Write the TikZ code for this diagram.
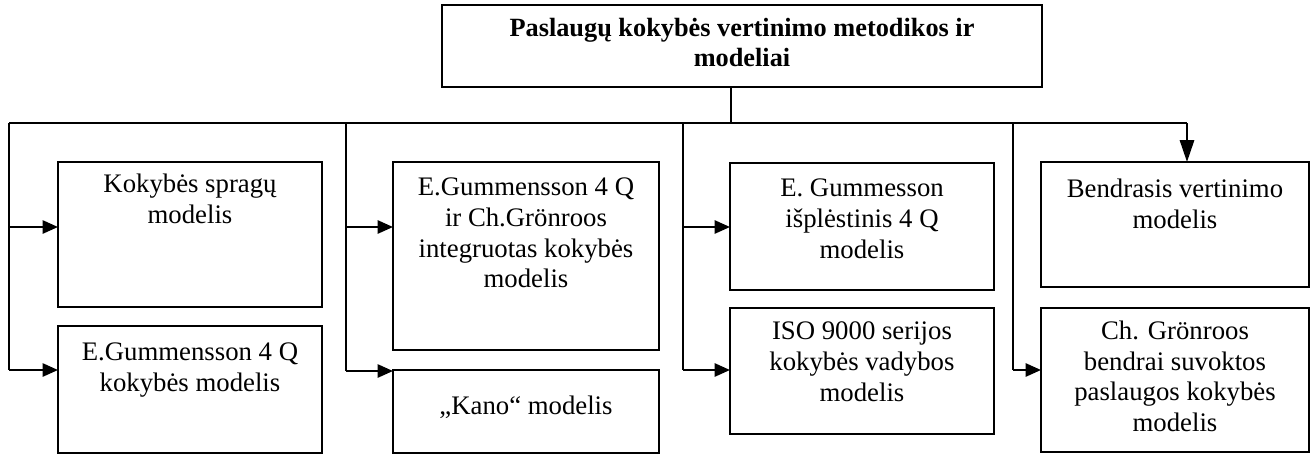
\documentclass[tikz,border=0pt]{standalone}
\usepackage{fontspec}
\setmainfont{Liberation Serif}
\usetikzlibrary{arrows.meta,calc}
\begin{document}
\begin{tikzpicture}[x=0.456pt,y=-0.456pt,
  size/.style 2 args={minimum width={#1*0.456pt}, minimum height={#2*0.456pt}},
  box/.style={draw, line width=0.9pt, inner sep=0pt, outer sep=0pt, anchor=north west},
  txt/.style={anchor=north, align=center, inner sep=0pt,
    font=\fontsize{12.2}{14}\selectfont, execute at begin node=\strut},
  wire/.style={line width=0.6pt},
  arr/.style={line width=1pt, -{Triangle[length=7pt,width=6pt]}},
  darr/.style={line width=1pt, -{Triangle[length=10pt,width=6.5pt]}}]
\useasboundingbox (0,0) rectangle (1314,454);

% boxes
\node[box, size={600}{82}]  (top) at (442,5) {};
\node[box, size={264}{145}] (A) at (58,162) {};
\node[box, size={264}{127}] (B) at (58,326) {};
\node[box, size={266}{188}] (C) at (393,162) {};
\node[box, size={266}{83}]  (D) at (393,370) {};
\node[box, size={264}{127}] (E) at (730,163) {};
\node[box, size={264}{126}] (F) at (730,308) {};
\node[box, size={268}{125}] (G) at (1041,162) {};
\node[box, size={268}{144}] (H) at (1041,308) {};

% texts
\node[txt, font=\fontsize{12}{14}\selectfont\bfseries] (ttop) at ($(top.north)+(0,12.5)$)
  {Paslaugų kokybės vertinimo metodikos ir\\modeliai};
\node[txt] (tA) at ($(A.north)+(0,11.5)$) {Kokybės spragų\\modelis};
\node[txt] (tB) at ($(B.north)+(0,16.5)$) {E.Gummensson 4 Q\\kokybės modelis};
\node[txt] (tC) at ($(C.north)+(0,15.5)$) {E.Gummensson 4 Q\\ir Ch.Grönroos\\integruotas kokybės\\modelis};
\node[txt] (tD) at ($(D.north)+(0,22.5)$) {„Kano“ modelis};
\node[txt] (tE) at ($(E.north)+(0,15.5)$) {E. Gummesson\\išplėstinis 4 Q\\modelis};
\node[txt] (tF) at ($(F.north)+(0,13.5)$) {ISO 9000 serijos\\kokybės vadybos\\modelis};
\node[txt] (tG) at ($(G.north)+(0,16.5)$) {Bendrasis vertinimo\\modelis};
\node[txt] (tH) at ($(H.north)+(0,12.5)$) {Ch. Grönroos\\bendrai suvoktos\\paslaugos kokybės\\modelis};

% bus and trunks
\coordinate (tap) at (731,123);
\coordinate (busL) at (9,123);
\coordinate (busR) at (1187,123);
\coordinate (t2) at (346,123);
\coordinate (t3) at (683,123);
\coordinate (t4) at (1013,123);
\coordinate (a1) at (9,227);
\coordinate (b1) at (9,370);
\coordinate (a2) at (346,227);
\coordinate (b2) at (346,371);
\coordinate (a3) at (683,227);
\coordinate (b3) at (683,370);
\coordinate (b4) at (1013,370);

\draw[wire] (tap |- top.south) -- (tap);
\draw[wire] (busL) -- (busR);
\draw[wire] (busL) -- (b1);
\draw[wire] (t2) -- (b2);
\draw[wire] (t3) -- (b3);
\draw[wire] (t4) -- (b4);

% arrows into the boxes
\draw[arr] (a1) -- (a1 -| A.west);
\draw[arr] (b1) -- (b1 -| B.west);
\draw[arr] (a2) -- (a2 -| C.west);
\draw[arr] (b2) -- (b2 -| D.west);
\draw[arr] (a3) -- (a3 -| E.west);
\draw[arr] (b3) -- (b3 -| F.west);
\draw[arr] (b4) -- (b4 -| H.west);
\draw[darr] (busR) -- (busR |- G.north);
\end{tikzpicture}
\end{document}
